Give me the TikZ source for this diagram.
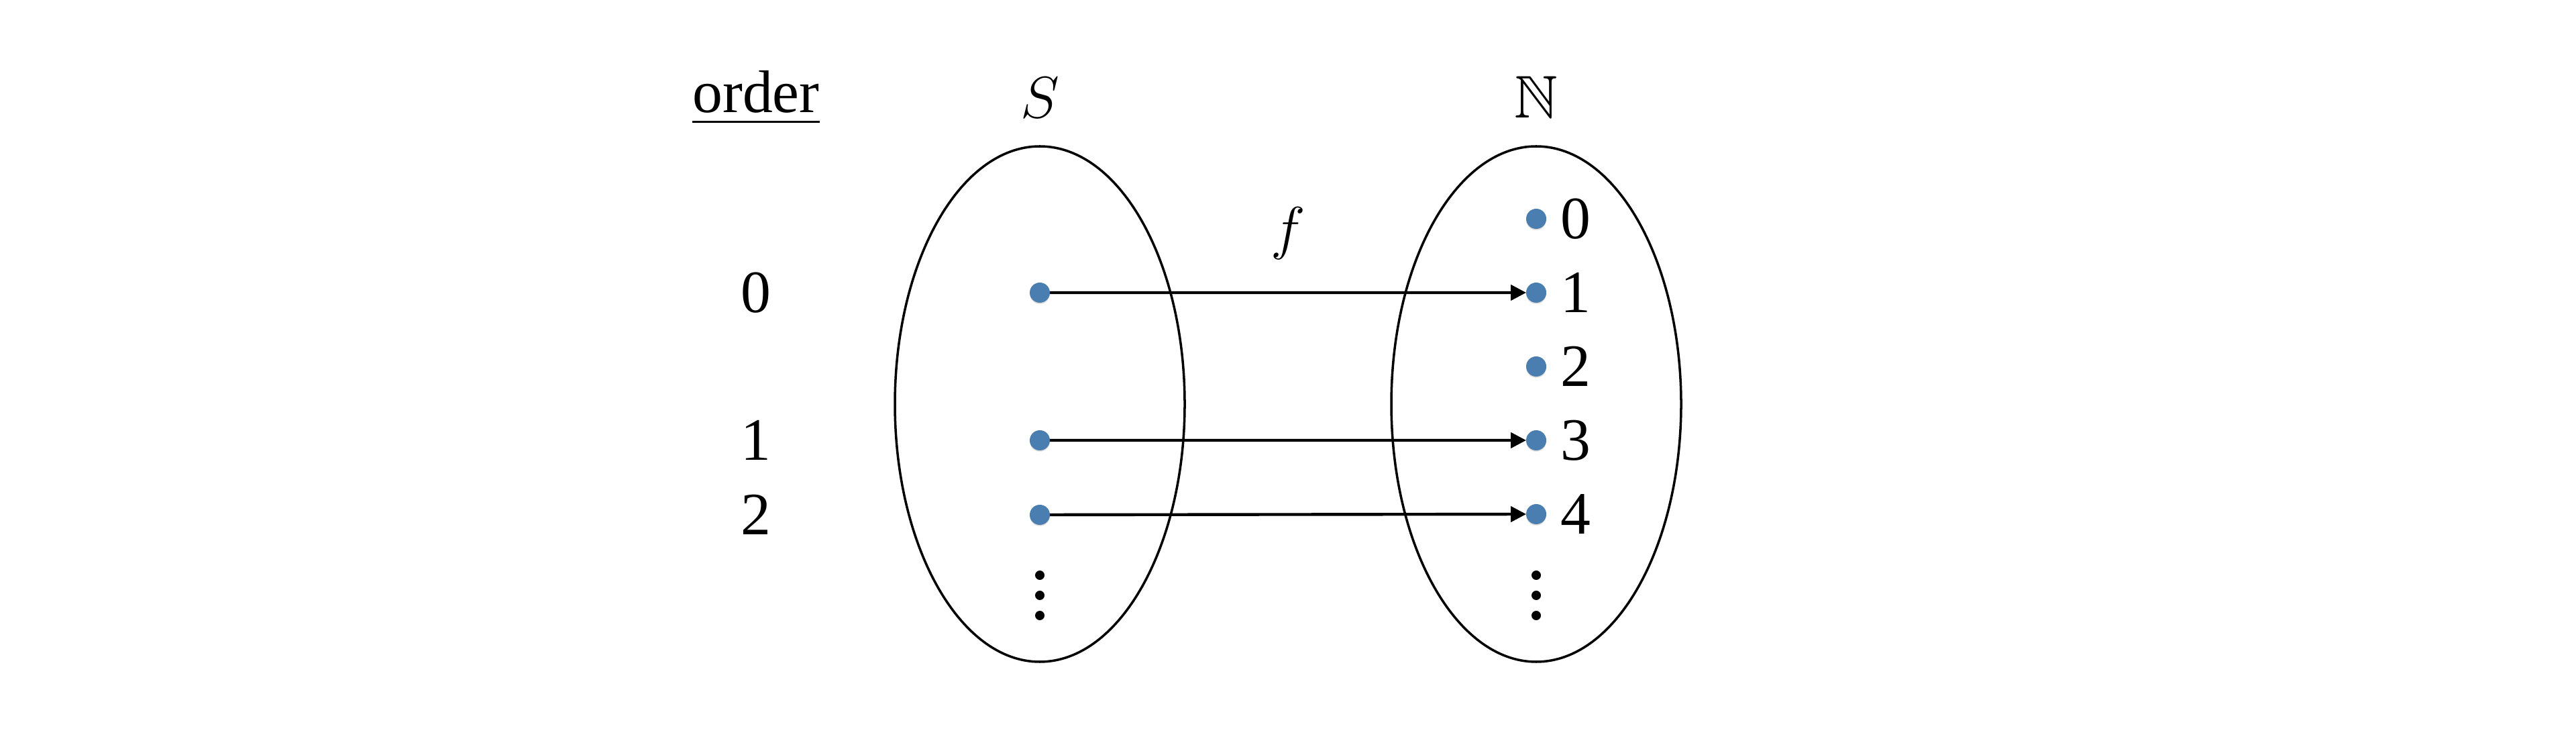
\documentclass[tikz,border=0pt]{standalone}
\usepackage{fontspec}
\setmainfont{Liberation Serif}
\usepackage{amssymb}
\usetikzlibrary{arrows.meta,positioning,shapes.geometric,shadows}
\definecolor{dotblue}{HTML}{4A7EB0}

\begin{document}
\begin{tikzpicture}[
  every node/.style={font=\fontsize{25.5}{30}\selectfont},
  setbox/.style={
    draw, ellipse, line width=1pt,
    minimum width=43.2mm, minimum height=76.8mm, inner sep=0pt
  },
  elem/.style={
    circle, fill=dotblue, minimum size=3mm, inner sep=0pt, outer sep=0pt,
    drop shadow={shadow xshift=0pt, shadow yshift=-0.5pt, opacity=0.3}
  },
  more/.style={circle, fill=black, minimum size=1.4mm, inner sep=0pt},
  num/.style={inner sep=0pt},
  mapto/.style={-{Triangle[length=2.3mm, width=2.3mm]}, line width=1.25pt}
]
  \useasboundingbox (0,0) rectangle (38.4,11);

  % the two sets
  \node[setbox] (sset) at (15.50,4.98) {};
  \node[setbox] (nset) at (22.90,4.98) {};
  \node[num, above=4mm of sset] (slabel) {$S$};
  \node[num, above=4mm of nset] (nlabel) {$\mathbb{N}$};

  % order column
  \node[num, anchor=base] (order) at (11.27,9.32) {\underline{order}};
  \node[num] (o0) at (11.27,6.64) {0};
  \node[num] (o1) at (11.27,4.44) {1};
  \node[num] (o2) at (11.27,3.33) {2};

  % elements of S
  \node[elem] (s0) at (15.50,6.64) {};
  \node[elem] (s1) at (15.50,4.44) {};
  \node[elem] (s2) at (15.50,3.33) {};
  \node[more] (sm0) at (15.50,2.43) {};
  \node[more] (sm1) at (15.50,2.13) {};
  \node[more] (sm2) at (15.50,1.83) {};

  % elements of N
  \node[elem] (n0) at (22.90,7.74) {};
  \node[elem, below=8mm of n0] (n1) {};
  \node[elem, below=8mm of n1] (n2) {};
  \node[elem, below=8mm of n2] (n3) {};
  \node[elem, below=8mm of n3] (n4) {};
  \node[num, right=2.1mm of n0] (n0l) {0};
  \node[num, right=2.1mm of n1] (n1l) {1};
  \node[num, right=2.1mm of n2] (n2l) {2};
  \node[num, right=2.1mm of n3] (n3l) {3};
  \node[num, right=2.1mm of n4] (n4l) {4};
  \node[more] (nm0) at (22.90,2.43) {};
  \node[more] (nm1) at (22.90,2.13) {};
  \node[more] (nm2) at (22.90,1.83) {};

  % the map
  \draw[mapto] (s0) -- (n1) node[num, midway, above=4.7mm] (flabel) {$f$};
  \draw[mapto] (s1) -- (n3);
  \draw[mapto] (s2) -- (n4);
\end{tikzpicture}
\end{document}
